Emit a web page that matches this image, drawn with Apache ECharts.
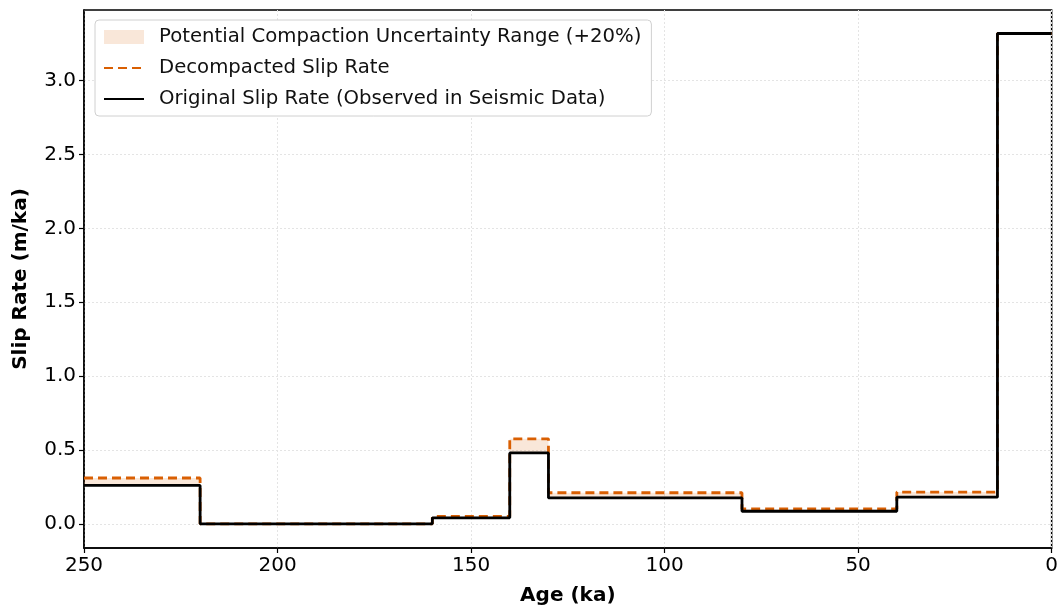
<!DOCTYPE html>
<html>
<head>
<meta charset="utf-8">
<script src="https://cdn.jsdelivr.net/npm/echarts@6/dist/echarts.min.js"></script>
<style>
  html, body { margin: 0; padding: 0; background: #fff; }
  #chart { width: 1061px; height: 611px; }
</style>
</head>
<body>
<div id="chart"></div>
<script>
// interval boundaries (ka), oldest -> youngest
const ageEdges = [250, 220, 160, 140, 130, 80, 40, 14, 0]
// slip rate per interval (m/ka)
const originalRate = [0.26, 0.0, 0.04, 0.48, 0.175, 0.085, 0.18, 3.32]
const decompactedRate = [0.31, 0.0, 0.05, 0.575, 0.21, 0.10, 0.215, 3.32]
const yTicks = [0, 0.5, 1.0, 1.5, 2.0, 2.5, 3.0]

//把区间数据转成阶梯线的点
function stepPoints(values) {
    const pts = ageEdges.slice(0, -1).map((a, i) => [a, values[i]])
    pts.push([ageEdges[ageEdges.length - 1], values[values.length - 1]])
    return pts
}
//不确定范围：每个区间一个矩形 [起始年龄, 结束年龄, 下限, 上限]
const bandData = originalRate.map((v, i) => [ageEdges[i], ageEdges[i + 1], v, decompactedRate[i]])

const orange = '#d95f02'
const bandColor = 'rgba(217,95,2,0.15)'
const font = 'DejaVu Sans'

const chart = echarts.init(document.getElementById('chart'))
const option = {
    animation: false,
    grid: {
        left: 84, right: 9, top: 10, bottom: 59,
        show: true, borderColor: '#000', borderWidth: 1.5, backgroundColor: 'transparent'
    },
    legend: {
        orient: 'vertical',
        left: 95, top: 20,
        padding: [7, 10, 7, 8],
        backgroundColor: '#fff',
        borderColor: '#d0d0d0',
        borderWidth: 1,
        borderRadius: 4,
        itemWidth: 40,
        itemHeight: 14,
        itemGap: 11,
        textStyle: { fontFamily: font, fontSize: 19.7, color: '#111', padding: [0, 0, 0, 10] },
        data: [
            { name: 'Potential Compaction Uncertainty Range (+20%)', icon: 'rect', itemStyle: { color: bandColor } },
            { name: 'Decompacted Slip Rate', itemStyle: { color: 'rgba(0,0,0,0)', borderWidth: 0 } },
            { name: 'Original Slip Rate (Observed in Seismic Data)', itemStyle: { color: 'rgba(0,0,0,0)', borderWidth: 0 } }
        ]
    },
    xAxis: {
        type: 'value',
        inverse: true,
        min: 0, max: 250, interval: 50,
        name: 'Age (ka)',
        nameLocation: 'middle',
        nameGap: 38,
        nameTextStyle: { fontFamily: font, fontSize: 20, fontWeight: 'bold', color: '#000' },
        axisLine: { show: true, onZero: false, lineStyle: { color: '#000', width: 1.5 } },
        axisTick: { show: true, length: 5, lineStyle: { color: '#000', width: 1.2 } },
        axisLabel: { fontFamily: font, fontSize: 20, color: '#000', margin: 8 },
        splitLine: { show: true, lineStyle: { color: '#e4e4e4', type: [2, 2], width: 1 } }
    },
    yAxis: {
        type: 'value',
        min: -0.164, max: 3.479,
        name: 'Slip Rate (m/ka)',
        nameLocation: 'middle',
        nameGap: 53,
        nameTextStyle: { fontFamily: font, fontSize: 20, fontWeight: 'bold', color: '#000' },
        axisLine: { show: true, onZero: false, lineStyle: { color: '#000', width: 1.5 } },
        axisTick: { show: true, length: 5, customValues: yTicks, lineStyle: { color: '#000', width: 1.2 } },
        axisLabel: { fontFamily: font, fontSize: 20, color: '#000', margin: 8, customValues: yTicks,
            formatter: v => v.toFixed(1) },
        splitLine: { show: true, lineStyle: { color: '#e4e4e4', type: [2, 2], width: 1 } }
    },
    series: [
        {
            name: 'Potential Compaction Uncertainty Range (+20%)',
            type: 'custom',
            itemStyle: { color: bandColor },
            renderItem(params, api) {
                const p0 = api.coord([api.value(0), api.value(3)])
                const p1 = api.coord([api.value(1), api.value(2)])
                return {
                    type: 'rect',
                    shape: {
                        x: Math.min(p0[0], p1[0]), y: Math.min(p0[1], p1[1]),
                        width: Math.abs(p1[0] - p0[0]), height: Math.abs(p1[1] - p0[1])
                    },
                    style: { fill: bandColor }
                }
            },
            encode: { x: [0, 1], y: [2, 3] },
            data: bandData
        },
        {
            name: 'Decompacted Slip Rate',
            type: 'line',
            step: 'end',
            symbol: 'none',
            itemStyle: { color: orange },
            lineStyle: { color: orange, width: 2.8, type: [9, 5] },
            data: stepPoints(decompactedRate)
        },
        {
            name: 'Original Slip Rate (Observed in Seismic Data)',
            type: 'line',
            step: 'end',
            symbol: 'none',
            itemStyle: { color: '#000' },
            lineStyle: { color: '#000', width: 2.8 },
            data: stepPoints(originalRate)
        }
    ]
}
chart.setOption(option)
</script>
</body>
</html>
